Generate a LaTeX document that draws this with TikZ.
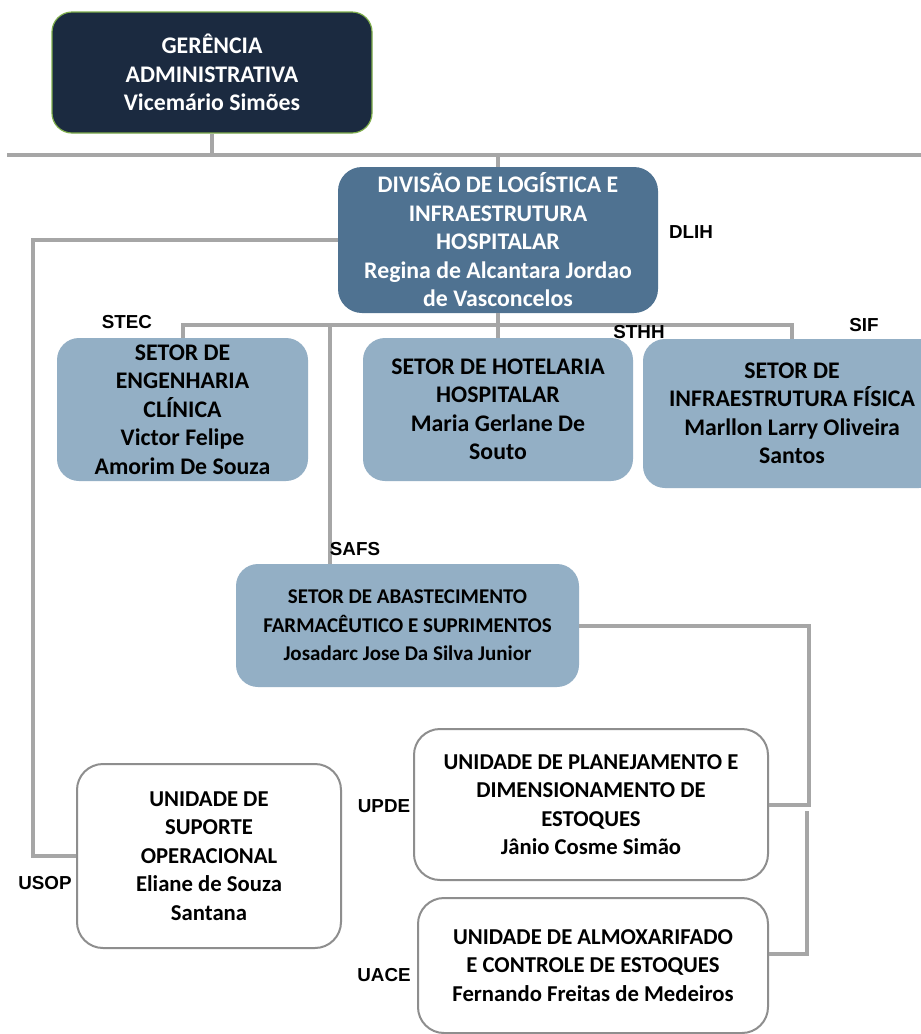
\documentclass[tikz,border=0pt]{standalone}
\usepackage{fontspec}
\setmainfont{Carlito}
\newfontfamily\tagfont{Liberation Sans}
\usepackage{tikz}
\definecolor{navy}{HTML}{1B2A40}
\definecolor{navyrim}{HTML}{7FAE4C}
\definecolor{divblue}{HTML}{4F7291}
\definecolor{setorblue}{HTML}{93AFC5}
\definecolor{unitrim}{HTML}{8E8E8E}
\definecolor{linkgray}{HTML}{A6A6A6}
\newcommand{\orgsize}{\fontsize{23.8}{28.5}\selectfont}
\newcommand{\unitsize}{\fontsize{22.7}{28.5}\selectfont}
\tikzset{every picture/.style={line width=0.75pt}}
\tikzset{
  headbox/.style={draw=navyrim, line width=1.2pt, fill=navy, rounded corners=20pt, text=white, font=\bfseries\orgsize, align=center, inner sep=0pt},
  divbox/.style={fill=divblue, rounded corners=24pt, text=white, font=\bfseries\orgsize, align=center, inner sep=0pt},
  setorbox/.style={fill=setorblue, rounded corners=22pt, text=black, font=\bfseries\orgsize, align=center, inner sep=0pt},
  unitbox/.style={draw=unitrim, line width=2pt, fill=white, rounded corners=26pt, text=black, font=\bfseries\unitsize, align=center, inner sep=0pt},
  link/.style={draw=linkgray, line width=4pt},
  tag/.style={font=\tagfont\bfseries\fontsize{18.8}{22}\selectfont, inner sep=0pt}
}

\begin{document}
\begin{tikzpicture}[x=1pt,y=1pt,yscale=-1,xscale=1]
\clip (0,0) rectangle (921,1034);
\fill[white] (0,0) rectangle (921,1034);

%Shape: Boxes
\node[headbox, minimum width=320pt, minimum height=121pt] (ga) at (212,72.5) {GERÊNCIA\\ADMINISTRATIVA\\Vicemário Simões};
\node[divbox, minimum width=320pt, minimum height=146pt] (dlih) at (498,240) {DIVISÃO DE LOGÍSTICA E\\INFRAESTRUTURA\\HOSPITALAR\\Regina de Alcantara Jordao\\de Vasconcelos};
\node[setorbox, minimum width=251pt, minimum height=143pt] (stec) at (182.5,409.5) {SETOR DE\\ENGENHARIA\\CLÍNICA\\Victor Felipe\\Amorim De Souza};
\node[setorbox, minimum width=270pt, minimum height=143pt] (sthh) at (498,409.5) {SETOR DE HOTELARIA\\HOSPITALAR\\Maria Gerlane De\\Souto};
\node[setorbox, minimum width=298pt, minimum height=149pt] (sif) at (792,413.5) {SETOR DE\\INFRAESTRUTURA FÍSICA\\Marllon Larry Oliveira\\Santos};
\node[setorbox, font=\bfseries\fontsize{21}{28.5}\selectfont, minimum width=343pt, minimum height=123pt] (safs) at (407.5,625.5) {SETOR DE ABASTECIMENTO\\FARMACÊUTICO E SUPRIMENTOS\\Josadarc Jose Da Silva Junior};
\node[unitbox, minimum width=264pt, minimum height=184pt] (usop) at (209,856) {UNIDADE DE\\SUPORTE\\OPERACIONAL\\Eliane de Souza\\Santana};
\node[unitbox, minimum width=354pt, minimum height=151pt] (upde) at (591,804.5) {UNIDADE DE PLANEJAMENTO E\\DIMENSIONAMENTO DE\\ESTOQUES\\Jânio Cosme Simão};
\node[unitbox, minimum width=350pt, minimum height=135pt] (uace) at (593,965.5) {UNIDADE DE ALMOXARIFADO\\E CONTROLE DE ESTOQUES\\Fernando Freitas de Medeiros};

%Straight Lines
\coordinate (barL) at (7,155);
\coordinate (barR) at (930,155);
\coordinate (mid) at (330,325);
\coordinate (lft) at (33,240);
\coordinate (rgt) at (809,625.5);
\coordinate (rgt2) at (807,811);
\draw[link] (barL) -- (barR);
\draw[link] (ga.south) -- (ga.south |- barL);
\draw[link] (dlih.north) -- (dlih.north |- barL);
\draw[link] (stec.north) |- (mid) -| (sif.north);
\draw[link] (dlih.south) -- (sthh.north);
\draw[link] (mid) -- (mid |- safs.north);
\draw[link] (dlih.west) -- (lft) |- (usop.west);
\draw[link] (safs.east) -- (rgt) |- (upde.east);
\draw[link] (rgt2) |- ([yshift=-11.5pt]uace.east);

% Text Node
\node[tag] (tagdlih) at (691,232) {DLIH};
% Text Node
\node[tag] (tagstec) at (127,322) {STEC};
% Text Node
\node[tag] (tagsthh) at (639,332) {STHH};
% Text Node
\node[tag] (tagsif) at (864,325) {SIF};
% Text Node
\node[tag] (tagsafs) at (355,549) {SAFS};
% Text Node
\node[tag] (tagusop) at (45,883) {USOP};
% Text Node
\node[tag] (tagupde) at (384,806) {UPDE};
% Text Node
\node[tag] (taguace) at (384,975) {UACE};

\end{tikzpicture}
\end{document}
